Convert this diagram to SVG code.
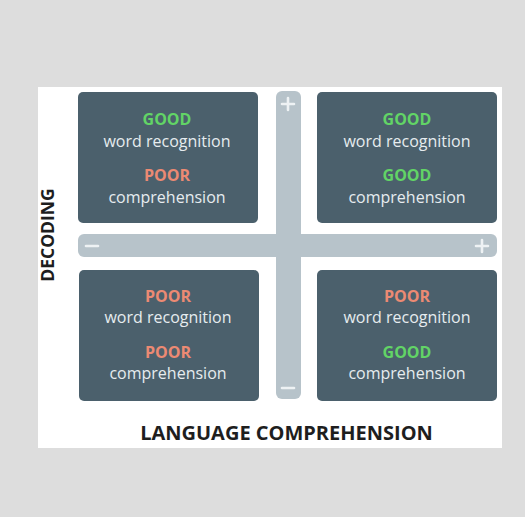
<svg xmlns="http://www.w3.org/2000/svg" width="525" height="517" viewBox="0 0 525 517">
  <style>
    .box { fill: #4b606c; }
    .bar { fill: #b7c3ca; }
    .sign { fill: none; stroke: #eef2f4; stroke-width: 2.6; stroke-linecap: round; }
    .t { font-family: "Open Sans", "Liberation Sans", sans-serif; font-size: 16px; fill: #e6ecef; text-anchor: middle; }
    .good { font-family: "Open Sans", "Liberation Sans", sans-serif; font-size: 16px; font-weight: 700; fill: #62d466; text-anchor: middle; }
    .poor { font-family: "Open Sans", "Liberation Sans", sans-serif; font-size: 16px; font-weight: 700; fill: #ec8a73; text-anchor: middle; }
    .axis { font-family: "Open Sans", "Liberation Sans", sans-serif; font-weight: 700; fill: #1e1e1e; text-anchor: middle; }
  </style>

  <!-- backdrop and panel -->
  <rect x="0" y="0" width="525" height="517" fill="#dddddd"/>
  <rect x="38" y="87" width="464" height="361" fill="#ffffff"/>

  <!-- axes -->
  <g id="axes">
    <rect class="bar" x="78" y="234" width="419" height="23" rx="6"/>
    <rect class="bar" x="276" y="91" width="25" height="308" rx="6"/>
    <path class="sign" d="M282 104 H294 M288 98 V110"/>
    <path class="sign" d="M282 388 H294"/>
    <path class="sign" d="M86 246 H98"/>
    <path class="sign" d="M476 246 H488 M482 240 V252"/>
  </g>

  <g id="q-top-left">
    <rect class="box" x="78" y="92" width="180" height="131" rx="5"/>
    <text class="good" x="167" y="124.5">GOOD</text>
    <text class="t" x="167" y="147">word recognition</text>
    <text class="poor" x="167" y="181">POOR</text>
    <text class="t" x="167" y="202.5">comprehension</text>
  </g>

  <g id="q-top-right">
    <rect class="box" x="317" y="92" width="180" height="131" rx="5"/>
    <text class="good" x="407" y="124.5">GOOD</text>
    <text class="t" x="407" y="147">word recognition</text>
    <text class="good" x="407" y="181">GOOD</text>
    <text class="t" x="407" y="202.5">comprehension</text>
  </g>

  <g id="q-bottom-left">
    <rect class="box" x="79" y="270" width="180" height="131" rx="5"/>
    <text class="poor" x="168" y="301.5">POOR</text>
    <text class="t" x="168" y="323">word recognition</text>
    <text class="poor" x="168" y="358">POOR</text>
    <text class="t" x="168" y="378.5">comprehension</text>
  </g>

  <g id="q-bottom-right">
    <rect class="box" x="317" y="270" width="180" height="131" rx="5"/>
    <text class="poor" x="407" y="301.5">POOR</text>
    <text class="t" x="407" y="323">word recognition</text>
    <text class="good" x="407" y="358">GOOD</text>
    <text class="t" x="407" y="378.5">comprehension</text>
  </g>

  <g id="labels">
    <text class="axis" x="286.5" y="440" font-size="20">LANGUAGE COMPREHENSION</text>
    <text class="axis" font-size="17.5" transform="translate(54 235) rotate(-90)">DECODING</text>
  </g>
</svg>
